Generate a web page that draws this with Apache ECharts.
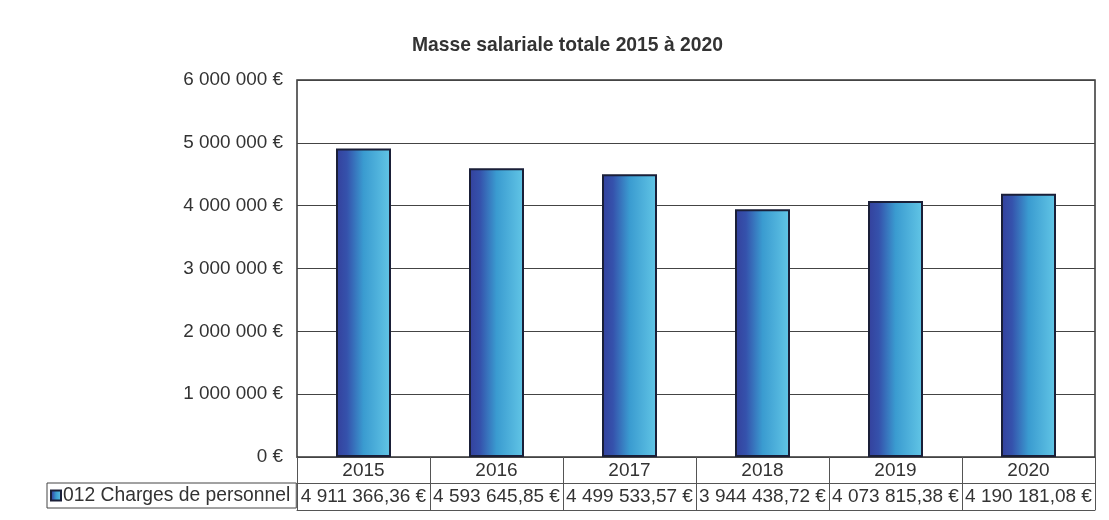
<!DOCTYPE html>
<html>
<head>
<meta charset="utf-8">
<script src="https://cdn.jsdelivr.net/npm/echarts@6/dist/echarts.min.js"></script>
<style>
  html, body { margin: 0; padding: 0; background: #fff; }
  #chart { width: 1109px; height: 520px; }
</style>
</head>
<body>
<div id="chart"></div>
<script>
// données
const years = ['2015', '2016', '2017', '2018', '2019', '2020']
const charges = [4911366.36, 4593645.85, 4499533.57, 3944438.72, 4073815.38, 4190181.08]
const seriesName = '012 Charges de personnel'
const yTicks = [0, 1000000, 2000000, 3000000, 4000000, 5000000, 6000000]

const font = 'Liberation Sans, Arial, sans-serif'
const ink = '#333'

// 4 911 366,36 €
const fmtEuro = (v, dec) => {
  const parts = v.toFixed(dec).split('.')
  const ent = parts[0].replace(/\B(?=(\d{3})+(?!\d))/g, ' ')
  return (dec ? ent + ',' + parts[1] : ent) + ' €'
}

const chart = echarts.init(document.getElementById('chart'))

const barColor = new echarts.graphic.LinearGradient(0, 0, 1, 0, [
  { offset: 0, color: '#34409c' },
  { offset: 0.2, color: '#3552ac' },
  { offset: 0.5, color: '#3a9bd0' },
  { offset: 1, color: '#62c6e6' },
])

chart.setOption({
  animation: false,
  title: {
    text: 'Masse salariale totale 2015 à 2020',
    left: 407,
    top: 31,
    textStyle: { fontFamily: font, fontSize: 19.3, fontWeight: 'bold', color: ink },
  },
  legend: {
    data: [{ name: seriesName, icon: 'rect' }],
    left: 47,
    top: 483,
    orient: 'horizontal',
    padding: [3, 6, 3, 3],
    itemWidth: 10,
    itemHeight: 10,
    itemGap: 0,
    borderColor: '#444',
    borderWidth: 1,
    textStyle: { fontFamily: font, fontSize: 19.3, color: ink, padding: [0, 0, 0, -3] },
  },
  grid: {
    left: 297,
    right: 14,
    top: 80,
    bottom: 63,
    show: true,
    borderColor: '#333',
    borderWidth: 1.5,
  },
  yAxis: {
    type: 'value',
    min: yTicks[0],
    max: yTicks[yTicks.length - 1],
    interval: yTicks[1] - yTicks[0],
    axisLine: { show: false },
    axisTick: { show: false },
    axisLabel: {
      margin: 14,
      fontFamily: font,
      fontSize: 18.9,
      color: ink,
      formatter: (v) => fmtEuro(v, 0),
    },
    splitLine: { lineStyle: { color: '#444', width: 1 } },
  },
  xAxis: [
    {
      type: 'category',
      data: years,
      position: 'bottom',
      axisLine: { lineStyle: { color: '#444', width: 1 } },
      axisTick: { show: true, length: 53, interval: 0, lineStyle: { color: '#555', width: 1 } },
      axisLabel: { margin: 4, interval: 0, fontFamily: font, fontSize: 19, color: ink },
    },
    {
      type: 'category',
      data: charges,
      position: 'bottom',
      offset: 26,
      axisLine: { lineStyle: { color: '#555', width: 1 } },
      axisTick: { show: false },
      axisLabel: {
        margin: 4,
        interval: 0,
        fontFamily: font,
        fontSize: 19,
        color: ink,
        formatter: (v) => fmtEuro(Number(v), 2),
      },
    },
    {
      type: 'category',
      data: years,
      position: 'bottom',
      offset: 53,
      axisLine: { lineStyle: { color: '#555', width: 1 } },
      axisTick: { show: false },
      axisLabel: { show: false },
    },
  ],
  series: [
    {
      name: seriesName,
      type: 'bar',
      xAxisIndex: 0,
      data: charges,
      barWidth: 55,
      itemStyle: { color: barColor, borderColor: '#1a1f38', borderWidth: 2 },
    },
  ],
})
</script>
</body>
</html>
